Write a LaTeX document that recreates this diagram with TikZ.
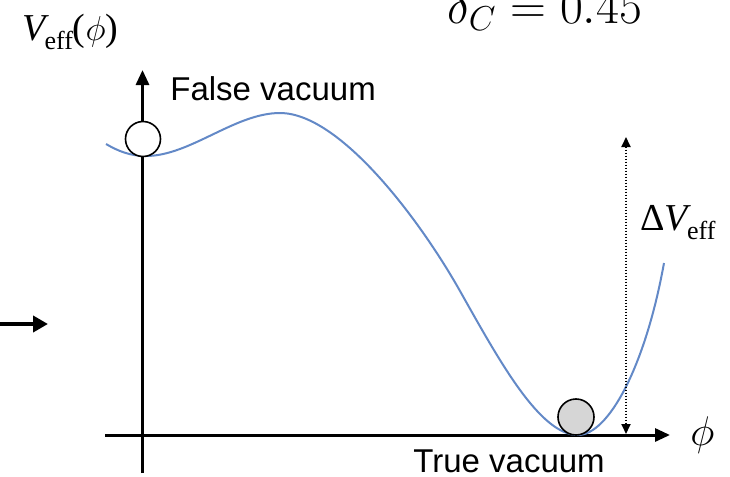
\documentclass[tikz,border=0pt]{standalone}
\usepackage{fontspec}
\newfontfamily\helv{Liberation Sans}
\newfontfamily\tnr{Liberation Serif}
\usepackage{tikz}
\usetikzlibrary{arrows.meta,positioning}
\definecolor{curveblue}{RGB}{99,137,199}
\definecolor{ballgray}{RGB}{214,214,214}
\newcommand{\veff}{{\itshape V}\kern-.5pt\raisebox{-4.5pt}{\fontsize{13}{14}\selectfont eff}}

\begin{document}
\begin{tikzpicture}[x=.5pt,y=-.5pt,>={Triangle[length=7.5pt,width=6.5pt]},
  axis/.style={line width=1.5pt,->},
  ball/.style={circle,draw,line width=.8pt,inner sep=0pt,minimum size=17.5pt},
  lbl/.style={inner sep=0pt,anchor=base west,font=\helv\fontsize{16.5}{18}\selectfont},
  sym/.style={inner sep=0pt,anchor=base west,font=\tnr\fontsize{19}{21}\selectfont}]
\useasboundingbox (0,0) rectangle (730,477);
\clip (0,0) rectangle (730,477);
% axes
\coordinate (ybot) at (142.5,473);
\coordinate (ytop) at (142.5,70);
\coordinate (xleft) at (105,435);
\coordinate (xright) at (670,435);
\draw[axis] (ybot) -- (ytop);
\draw[axis] (xleft) -- (xright);
% arrow coming in from the left panel
\coordinate (prev) at (0,324);
\coordinate (enter) at (48,324);
\draw[line width=2.4pt,-{Triangle[length=7.5pt,width=8pt]}] (prev) -- (enter);
% potential
\draw[curveblue,line width=1pt] (106,144) .. controls (118,151) and (130,156) .. (146,156)
  .. controls (190,156) and (235,113) .. (280,113)
  .. controls (340,113) and (420,220) .. (460,291)
  .. controls (500,362) and (540,435) .. (578,435)
  .. controls (608,435) and (645,368) .. (664,263);
% depth of the true vacuum
\coordinate (dtop) at (626,137);
\coordinate (dbot) at (626,434);
\draw[line width=.9pt,dash pattern=on .8pt off .7pt,
  {Triangle[length=5pt,width=4.5pt]}-{Triangle[length=5pt,width=4.5pt]}] (dtop) -- (dbot);
% balls
\node[ball,fill=white] (fv) at (143,139) {};
\node[ball,fill=ballgray,minimum size=18pt] (tv) at (576,417) {};
% labels
\node[lbl] (fvlabel) at (170,100) {False vacuum};
\node[lbl] (tvlabel) at (413,472) {True vacuum};
\node[sym] (vlabel) at (22,40) {\veff($\phi$)};
\node[sym] (dvlabel) at (640,230) {Δ\veff};
\node[inner sep=0pt,font=\fontsize{22}{24}\selectfont,right=10pt of xright] (philabel) {$\phi$};
\node[inner sep=0pt,anchor=base west,font=\fontsize{26}{30}\selectfont] (deltac) at (447,23) {$\delta_C = 0.45$};
\end{tikzpicture}
\end{document}
